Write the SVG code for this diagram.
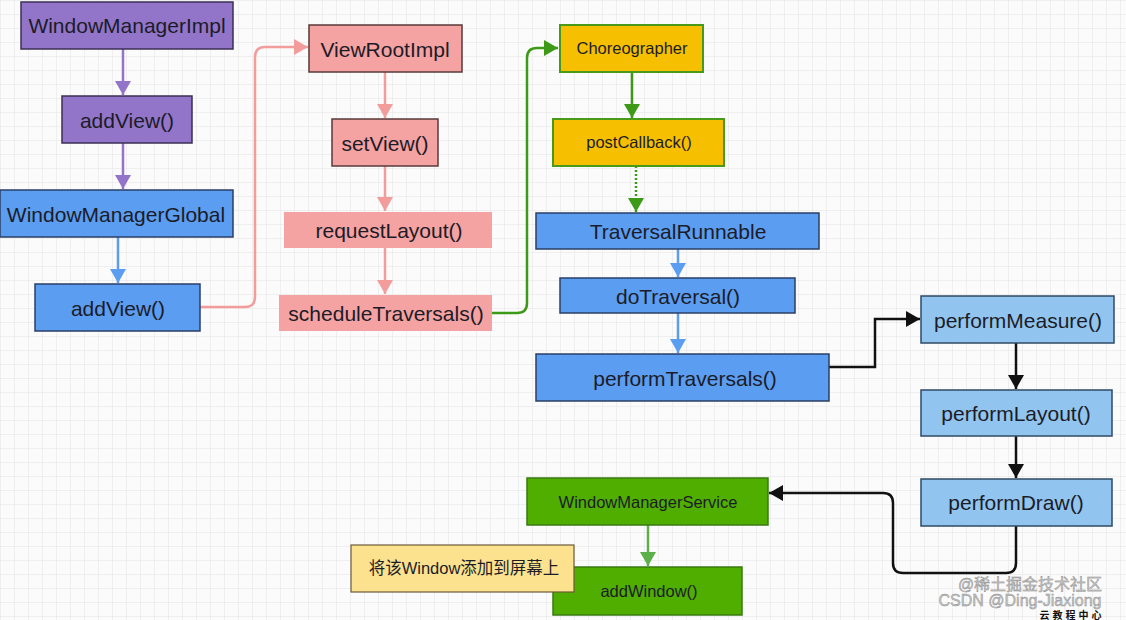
<svg xmlns="http://www.w3.org/2000/svg" width="1126" height="620" viewBox="0 0 1126 620">
<style>
text{font-family:"Liberation Sans",Arial,sans-serif;fill:#1c1c28;text-anchor:middle;dominant-baseline:central}
.big{font-size:21px}
.sm{font-size:16.5px}
.purple{fill:#9275c8;stroke:#3a2f55;stroke-width:1.5}
.blue{fill:#5b9df0;stroke:#2a3f66;stroke-width:1.5}
.pink{fill:#f4a2a2;stroke:#5a3a3a;stroke-width:1.5}
.pinkn{fill:#f4a2a2}
.yellow{fill:#f6c000;stroke:#4a9a1a;stroke-width:2}
.lblue{fill:#91c5ef;stroke:#2f4a66;stroke-width:1.5}
.green{fill:#4fae00;stroke:#3a7a10;stroke-width:1.5}
.note{fill:#fce28e;stroke:#6b5b3a;stroke-width:1.2}
.c{fill:none;stroke-width:2.5}
.wm{font-size:16px;fill:#c4c4c4;stroke:#8a8a8a;stroke-width:0.4}
</style>
<defs>
<pattern id="grid" width="14" height="14" patternUnits="userSpaceOnUse">
<path d="M14 0H0V14" fill="none" stroke="#e4e4e4" stroke-width="1"/>
</pattern>
<marker id="aPurple" markerWidth="15" markerHeight="16" refX="14" refY="8" orient="auto" markerUnits="userSpaceOnUse"><path d="M0,0L14,8L0,16z" fill="#9275c8"/></marker>
<marker id="aBlue" markerWidth="15" markerHeight="16" refX="14" refY="8" orient="auto" markerUnits="userSpaceOnUse"><path d="M0,0L14,8L0,16z" fill="#5b9df0"/></marker>
<marker id="aPink" markerWidth="15" markerHeight="16" refX="14" refY="8" orient="auto" markerUnits="userSpaceOnUse"><path d="M0,0L14,8L0,16z" fill="#f29c9c"/></marker>
<marker id="aGreen" markerWidth="15" markerHeight="16" refX="14" refY="8" orient="auto" markerUnits="userSpaceOnUse"><path d="M0,0L14,8L0,16z" fill="#3c9a16"/></marker>
<marker id="aLGreen" markerWidth="15" markerHeight="16" refX="14" refY="8" orient="auto" markerUnits="userSpaceOnUse"><path d="M0,0L14,8L0,16z" fill="#5cb04a"/></marker>
<marker id="aBlack" markerWidth="15" markerHeight="16" refX="14" refY="8" orient="auto" markerUnits="userSpaceOnUse"><path d="M0,0L14,8L0,16z" fill="#111"/></marker>
</defs>
<rect width="1126" height="620" fill="#fbfbfb"/>
<rect width="1126" height="620" fill="url(#grid)"/>

<g id="connectors">
<path class="c" stroke="#9275c8" d="M123 49V95" marker-end="url(#aPurple)"/>
<path class="c" stroke="#9275c8" d="M123 143V189" marker-end="url(#aPurple)"/>
<path class="c" stroke="#5b9df0" d="M118 237V283" marker-end="url(#aBlue)"/>
<path class="c" stroke="#f29c9c" d="M200 307H245Q255 307 255 297V57Q255 47 265 47H308" marker-end="url(#aPink)"/>
<path class="c" stroke="#f29c9c" d="M385 72V118" marker-end="url(#aPink)"/>
<path class="c" stroke="#f29c9c" d="M385 166V211" marker-end="url(#aPink)"/>
<path class="c" stroke="#f29c9c" d="M385 248V294" marker-end="url(#aPink)"/>
<path class="c" stroke="#3c9a16" d="M492 313H517Q527 313 527 303V58Q527 48 537 48H558" marker-end="url(#aGreen)"/>
<path class="c" stroke="#3c9a16" d="M632 72V118" marker-end="url(#aGreen)"/>
<path class="c" stroke="#3c9a16" stroke-dasharray="2 2" d="M636 166V212" marker-end="url(#aGreen)"/>
<path class="c" stroke="#5b9df0" d="M678 249V277" marker-end="url(#aBlue)"/>
<path class="c" stroke="#5b9df0" d="M678 313V353" marker-end="url(#aBlue)"/>
<path class="c" stroke="#111" d="M829 367H875V319H920" marker-end="url(#aBlack)"/>
<path class="c" stroke="#111" d="M1016 343V389" marker-end="url(#aBlack)"/>
<path class="c" stroke="#111" d="M1016 436V478" marker-end="url(#aBlack)"/>
<path class="c" stroke="#111" d="M1016 526V563Q1016 573 1006 573H903Q893 573 893 563V503Q893 493 883 493H769" marker-end="url(#aBlack)"/>
<path class="c" stroke="#5cb04a" d="M648 525V566" marker-end="url(#aLGreen)"/>
</g>

<g id="n1"><rect class="purple" x="21" y="2" width="212" height="47"/><text class="big" x="127" y="25">WindowManagerImpl</text></g>
<g id="n2"><rect class="purple" x="62" y="96" width="130" height="47"/><text class="big" x="127" y="120">addView()</text></g>
<g id="n3"><rect class="blue" x="0" y="190" width="233" height="47"/><text class="big" x="116" y="214">WindowManagerGlobal</text></g>
<g id="n4"><rect class="blue" x="35" y="284" width="165" height="47"/><text class="big" x="118" y="308">addView()</text></g>

<g id="n5"><rect class="pink" x="309" y="25" width="153" height="47"/><text class="big" x="385" y="49">ViewRootImpl</text></g>
<g id="n6"><rect class="pink" x="332" y="119" width="106" height="47"/><text class="big" x="385" y="143">setView()</text></g>
<g id="n7"><rect class="pinkn" x="284" y="212" width="208" height="36"/><text class="big" x="389" y="230">requestLayout()</text></g>
<g id="n8"><rect class="pinkn" x="279" y="295" width="213" height="36"/><text class="big" x="386" y="313">scheduleTraversals()</text></g>

<g id="n9"><rect class="yellow" x="560" y="25" width="143" height="47"/><text class="sm" x="632" y="48">Choreographer</text></g>
<g id="n10"><rect class="yellow" x="553" y="119" width="171" height="47"/><text class="sm" x="639" y="142">postCallback()</text></g>
<g id="n11"><rect class="blue" x="536" y="213" width="283" height="36"/><text class="big" x="678" y="231">TraversalRunnable</text></g>
<g id="n12"><rect class="blue" x="560" y="278" width="235" height="35"/><text class="big" x="678" y="296">doTraversal()</text></g>
<g id="n13"><rect class="blue" x="536" y="354" width="293" height="47"/><text class="big" x="685" y="378">performTraversals()</text></g>

<g id="n14"><rect class="lblue" x="921" y="296" width="193" height="47"/><text class="big" x="1018" y="320">performMeasure()</text></g>
<g id="n15"><rect class="lblue" x="921" y="390" width="191" height="46"/><text class="big" x="1016" y="413">performLayout()</text></g>
<g id="n16"><rect class="lblue" x="921" y="479" width="191" height="47"/><text class="big" x="1016" y="502">performDraw()</text></g>

<g id="n17"><rect class="green" x="527" y="478" width="241" height="47"/><text class="sm" x="648" y="502">WindowManagerService</text></g>
<g id="n18"><rect class="green" x="553" y="567" width="189" height="48"/><text class="sm" x="649" y="591">addWindow()</text></g>
<g id="n19"><rect class="note" x="351" y="545" width="223" height="47"/><text class="sm" x="464" y="568" style="font-family:'Liberation Sans','Noto Sans CJK SC',sans-serif">将该Window添加到屏幕上</text></g>

<g id="watermark">
<text class="wm" x="1030" y="584" style="font-family:'Liberation Sans','Noto Sans CJK SC',sans-serif">@稀土掘金技术社区</text>
<text class="wm" x="1020" y="600">CSDN @Ding-Jiaxiong</text>
<text x="1072" y="614" style="font-family:'Noto Sans CJK SC',sans-serif;font-size:10px;font-weight:bold;letter-spacing:3px;fill:#111">云教程中心</text>
</g>
</svg>
